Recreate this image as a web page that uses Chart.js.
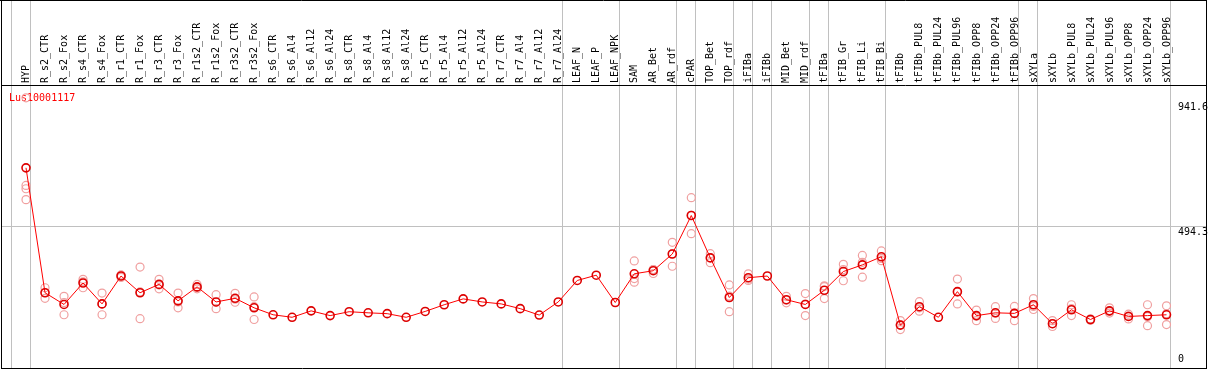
<!DOCTYPE html>
<html>
<head>
<meta charset="utf-8">
<script src="https://cdn.jsdelivr.net/npm/chart.js@4/dist/chart.umd.min.js"></script>
<style>
  html, body { margin: 0; padding: 0; background: #fff; overflow: hidden; }
  canvas { display: block; }
</style>
</head>
<body>
<canvas id="grafica" width="1209" height="370"></canvas>
<script>
/* ---------- datos ---------- */
const geneName = 'Lus10001117';

const categories = [
  'HYP', 'R_s2_CTR', 'R_s2_Fox', 'R_s4_CTR', 'R_s4_Fox', 'R_r1_CTR', 'R_r1_Fox', 'R_r3_CTR', 'R_r3_Fox',
  'R_r1s2_CTR', 'R_r1s2_Fox', 'R_r3s2_CTR', 'R_r3s2_Fox',
  'R_s6_CTR', 'R_s6_Al4', 'R_s6_Al12', 'R_s6_Al24', 'R_s8_CTR', 'R_s8_Al4', 'R_s8_Al12', 'R_s8_Al24',
  'R_r5_CTR', 'R_r5_Al4', 'R_r5_Al12', 'R_r5_Al24', 'R_r7_CTR', 'R_r7_Al4', 'R_r7_Al12', 'R_r7_Al24',
  'LEAF_N', 'LEAF_P', 'LEAF_NPK', 'SAM', 'AR_Bet', 'AR_rdf', 'cPAR', 'TOP_Bet', 'TOP_rdf',
  'iFIBa', 'iFIBb', 'MID_Bet', 'MID_rdf', 'tFIBa', 'tFIB_Gr', 'tFIB_Li', 'tFIB_Bi', 'tFIBb',
  'tFIBb_PUL8', 'tFIBb_PUL24', 'tFIBb_PUL96', 'tFIBb_OPP8', 'tFIBb_OPP24', 'tFIBb_OPP96',
  'sXYLa', 'sXYLb', 'sXYLb_PUL8', 'sXYLb_PUL24', 'sXYLb_PUL96', 'sXYLb_OPP8', 'sXYLb_OPP24', 'sXYLb_OPP96'
];

// media por muestra
const meanValues = [
  705, 257, 215, 292, 217, 317, 257, 287, 228,
  278, 224, 237, 203,
  178, 169, 192, 175, 189, 185, 182, 169,
  190, 214, 235, 224, 217, 200, 177, 224,
  301, 320, 222, 325, 336, 396, 534, 382, 240,
  311, 317, 232, 215, 266, 333, 357, 386, 141,
  207, 169, 261, 175, 185, 183,
  214, 146, 196, 161, 192, 172, 175, 178
];

// replicas (circulos claros); vacio donde quedan ocultas bajo la media
const replicateValues = [
  [956, 642, 630, 591], [275, 257, 237], [244, 222, 178], [305, 296, 275], [256, 217, 178],
  [312, 317, 321], [349, 260, 164], [305, 285, 271], [256, 224, 203],
  [287, 276, 271], [250, 223, 200], [255, 234, 223], [242, 207, 161],
  [], [], [], [], [], [], [], [],
  [], [], [], [], [], [], [], [],
  [], [], [], [371, 308, 295], [340, 340, 326], [438, 397, 352], [598, 535, 469], [397, 383, 365], [285, 245, 189],
  [325, 306, 301], [], [244, 230, 221], [254, 216, 175], [279, 282, 236], [359, 340, 300], [391, 366, 313], [407, 380, 372], [157, 142, 125],
  [225, 203, 191], [], [306, 259, 217], [195, 173, 157], [207, 184, 165], [208, 184, 157],
  [236, 208, 197], [157, 146, 136], [214, 200, 175], [163, 160, 158], [203, 190, 184], [180, 174, 163], [214, 171, 139], [210, 182, 143]
];

// separadores de grupo: despues de estos indices
const groupBreaks = [-1, 0, 28, 31, 34, 35, 37, 38, 39, 41, 42, 45, 52, 53, 60];

const yTickLabels = ['941.6', '494.3', '0'];
const gridValue = 494.3;
// el area llega hasta la linea del encabezado; 941.6 queda ~12px por debajo
const yTop = 984.2;

/* ---------- construccion ---------- */
const puntosReplica = [];
replicateValues.forEach((reps, i) => reps.forEach(v => puntosReplica.push({ x: categories[i], y: v })));

const FUENTE = '10px "DejaVu Sans Mono", monospace';

const marco = {
  id: 'marco',
  beforeDraw(chart) {
    const ctx = chart.ctx;
    ctx.save();
    ctx.fillStyle = '#fff';
    ctx.fillRect(0, 0, chart.width, chart.height);
    ctx.restore();
  },
  beforeDatasetsDraw(chart) {
    const ctx = chart.ctx, sx = chart.scales.x, sy = chart.scales.y;
    ctx.save();
    ctx.strokeStyle = '#c0c0c0';
    ctx.lineWidth = 1;
    ctx.beginPath();
    groupBreaks.forEach(i => {
      const px = Math.floor(sx.getPixelForValue(i) + 4.2) + 0.5;
      ctx.moveTo(px, 1); ctx.lineTo(px, 368);
    });
    const gy = Math.floor(sy.getPixelForValue(gridValue)) + 0.5;
    ctx.moveTo(2, gy); ctx.lineTo(1206, gy);
    ctx.stroke();

    // nombre del gen (debajo de los puntos, como en el original)
    ctx.font = FUENTE;
    ctx.fillStyle = '#ff0000';
    ctx.textAlign = 'left';
    ctx.textBaseline = 'alphabetic';
    ctx.fillText(geneName, 9, 101);
    ctx.restore();
  },
  afterDatasetsDraw(chart) {
    const ctx = chart.ctx, sx = chart.scales.x, sy = chart.scales.y;
    ctx.save();
    // marco negro
    ctx.strokeStyle = '#000';
    ctx.lineWidth = 1;
    ctx.beginPath();
    ctx.moveTo(0, 0.5); ctx.lineTo(1207, 0.5);
    ctx.moveTo(1, 85.5); ctx.lineTo(1207, 85.5);
    ctx.moveTo(1.5, 0); ctx.lineTo(1.5, 369);
    ctx.moveTo(1206.5, 0); ctx.lineTo(1206.5, 369);
    ctx.moveTo(1, 368.5); ctx.lineTo(1207, 368.5);
    ctx.stroke();

    // etiquetas de muestra (rotadas)
    ctx.font = FUENTE;
    ctx.fillStyle = '#000';
    ctx.textAlign = 'left';
    ctx.textBaseline = 'middle';
    categories.forEach((c, i) => {
      ctx.save();
      ctx.translate(sx.getPixelForValue(i) + 0.5, 83);
      ctx.rotate(-Math.PI / 2);
      ctx.fillText(c, 0, 0);
      ctx.restore();
    });

    // etiquetas del eje y (a la derecha)
    yTickLabels.forEach(t => {
      const v = parseFloat(t);
      const py = sy.getPixelForValue(v);
      if (v === 0) { ctx.textBaseline = 'bottom'; ctx.fillText(t, 1178, py); }
      else { ctx.textBaseline = 'top'; ctx.fillText(t, 1178, py + 1); }
    });
    ctx.restore();
  }
};

new Chart(document.getElementById('grafica'), {
  type: 'line',
  data: {
    labels: categories,
    datasets: [
      {
        label: 'media', data: meanValues, order: 0,
        borderColor: '#ff0000', borderWidth: 1, tension: 0, fill: false,
        pointStyle: 'circle', pointRadius: 4, pointBorderWidth: 1.6,
        pointBorderColor: '#dd0000', pointBackgroundColor: 'rgba(0,0,0,0)',
        clip: false,
      },
      {
        label: 'replicas', data: puntosReplica, order: 1, showLine: false,
        pointStyle: 'circle', pointRadius: 4, pointBorderWidth: 1.2,
        pointBorderColor: '#f0a0a0', pointBackgroundColor: 'rgba(0,0,0,0)',
        clip: false,
      },
    ],
  },
  options: {
    responsive: false,
    animation: false,
    devicePixelRatio: 1,
    layout: { padding: { left: 16.5, right: 33, top: 90, bottom: 2.5 } },
    plugins: { legend: { display: false }, tooltip: { enabled: false } },
    scales: {
      x: { type: 'category', display: false, offset: true },
      y: { display: false, min: 0, max: yTop },
    },
  },
  plugins: [marco],
});
</script>
</body>
</html>
